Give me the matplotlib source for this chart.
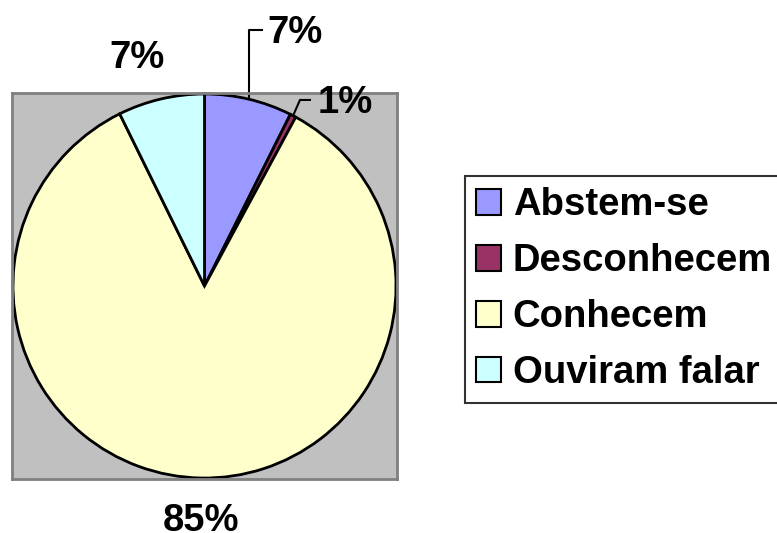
import matplotlib
matplotlib.use("Agg")
import matplotlib.pyplot as plt
import numpy as np

categories = ["Abstem-se", "Desconhecem", "Conhecem", "Ouviram falar"]
values = [7.4, 0.5, 84.8, 7.3]
labels = ["7%", "1%", "85%", "7%"]
colors = ["#9999FF", "#993366", "#FFFFCC", "#CCFFFF"]

plt.rcParams['font.family'] = ['Liberation Sans', 'DejaVu Sans']
FS = 27.5

fig = plt.figure(figsize=(7.77, 5.33), dpi=100)
fig.patch.set_facecolor("white")
ax = fig.add_axes([12/777, (533-479)/533, 385/777, 386/533])

R = 0.995
wedges, _ = ax.pie(values, colors=colors, startangle=90, counterclock=False,
                   radius=R, wedgeprops=dict(edgecolor="black", linewidth=2))
ax.set_frame_on(True)
ax.set_facecolor("#C0C0C0")
for s in ax.spines.values():
    s.set_visible(True)
    s.set_color("#808080")
    s.set_linewidth(2)
ax.set_xlim(-1, 1)
ax.set_ylim(-1, 1)
ax.set_aspect("auto")
ax.set_xticks([]); ax.set_yticks([])

# label positions (layout)
label_pos = [(0.47, 1.31), (0.73, 0.95), (-0.02, -1.22), (-0.35, 1.18)]
for lab, (x, y) in zip(labels, label_pos):
    ax.text(x, y, lab, fontsize=FS, fontweight="bold", ha="center", va="center",
            clip_on=False)

# leader lines computed from wedge mid angles
cum = np.cumsum([0] + values)
total = sum(values)
def mid_angle(i):
    return np.deg2rad(90 - (cum[i] + values[i] / 2) / total * 360)

a0 = mid_angle(0)
x0, y0 = R * np.cos(a0), R * np.sin(a0)
ax.plot([x0, x0, 0.30], [y0, 1.326, 1.326], color="black", lw=1.5, clip_on=False)
a1 = mid_angle(1)
x1, y1 = R * np.cos(a1), R * np.sin(a1)
ax.plot([x1, 0.496, 0.548], [y1, 0.964, 0.964], color="black", lw=1.5, clip_on=False)

leg = fig.legend(wedges, categories, loc="upper left",
                 bbox_to_anchor=(465/777, 1 - 176/533), borderaxespad=0,
                 frameon=True, fancybox=False, edgecolor="black",
                 prop=dict(size=FS, weight="bold"),
                 handlelength=0.65, handleheight=0.65, handletextpad=0.3,
                 labelspacing=0.52, borderpad=0.3)
leg.get_frame().set_linewidth(1.5)
for h in leg.legend_handles:
    h.set_linewidth(1.5)

fig.savefig("out.png", dpi=100)
